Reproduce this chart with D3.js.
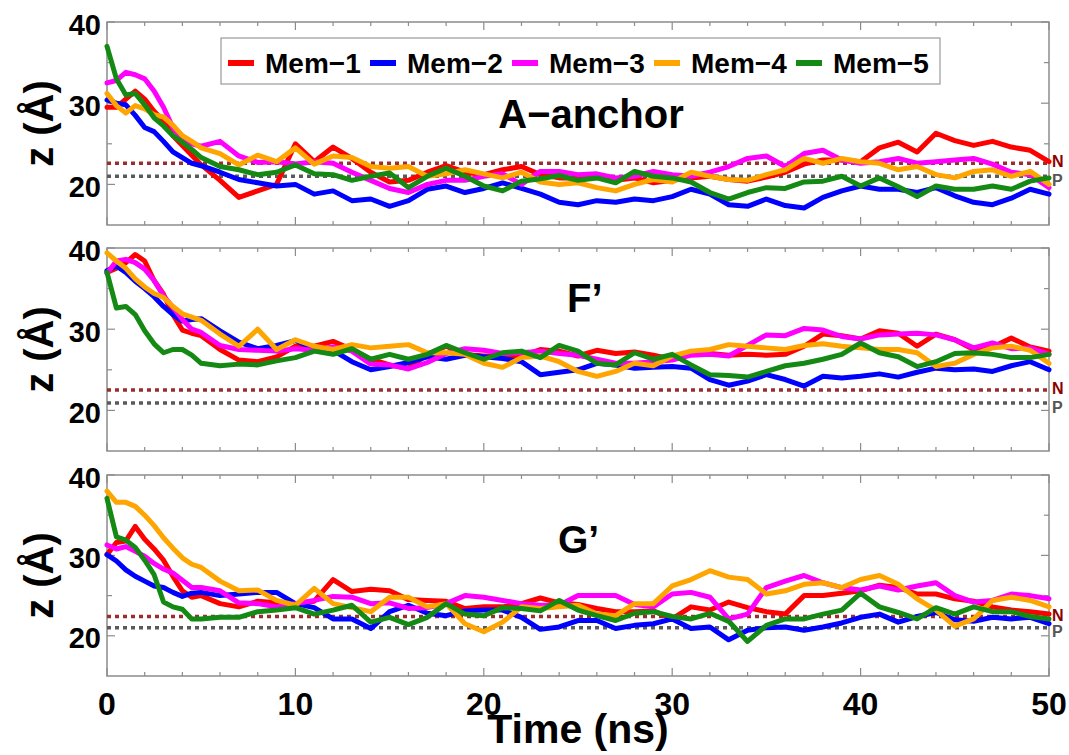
<!DOCTYPE html>
<html><head><meta charset="utf-8">
<script src="https://cdn.jsdelivr.net/npm/d3@7"></script>
<style>
body{margin:0;background:#fff;}
text{font-family:"Liberation Sans",Arial,Helvetica,sans-serif;font-weight:bold;}
</style>
</head><body>
<svg id="chart" width="1069" height="755"></svg>
<script>
// ---------------- data ----------------
const times = [0,0.5,1,1.5,2,2.5,3,3.5,4,4.5,5,6,7,8,9,10,11,12,13,14,15,16,17,18,19,20,21,22,23,24,25,26,27,28,29,30,31,32,33,34,35,36,37,38,39,40,41,42,43,44,45,46,47,48,49,50];

const seriesNames = ["Mem\u22121","Mem\u22122","Mem\u22123","Mem\u22124","Mem\u22125"];
const seriesColors = ["#ff0000","#0000ff","#ff00ff","#ffa500","#148a14"];
const panelTitles = ["A\u2212anchor","F\u2019","G\u2019"];
const yTickLabels = [20,30,40];
const yMinorTicks = [25,35];
const xTickLabels = [0,10,20,30,40,50];
const nLevels = [22.6,22.5,22.4];
const pLevels = [21.0,20.9,21.0];

// A-anchor
const aMem1 = [29.5,29.5,30.5,31.5,30.5,29,27.8,26.0,24.8,23.6,22.4, 20.5,18.4,19.2,20.0,25.0,22.8,24.6,23.2, 21.5,20.3,20.5,21.5,22.3,21.5,21.2,21.8,22.2,21.2,20.8,20.8,21.0,20.5,20.8,20.2,20.5,20.8,21.0, 20.6,20.4,20.9,21.5,22.5,23.0,23.0,22.8,24.5,25.2,24.0,26.3,25.4,24.8,25.3,24.6,24.2,22.8];
const aMem2 = [30.4,30.0,29.8,28.5,27.0,26.5,25.3,24.0,23.3,22.6,22.3, 21.5,20.6,20.2,19.8,20.0,18.8,19.2,18.0, 18.2,17.3,18.0,19.4,19.8,19.0,19.5,20.2,19.5,18.8,17.8,17.5,18.0,17.8,18.2,18.0,18.5,19.4,18.8, 17.5,17.3,18.2,17.4,17.1,18.4,19.2,19.8,19.4,19.4,19.0,19.6,18.6,17.8,17.5,18.3,19.4,18.8];
const aMem3 = [32.5,32.8,33.8,33.5,33.0,31.5,29.5,27.0,25.5,25.0,24.7, 25.3,23.5,22.7,22.8,22.5,22.8,22.6,21.5, 20.5,19.5,19.0,20.0,20.5,20.5,21.0,21.3,20.0,21.6,21.6,21.2,21.3,20.8,21.0,21.6,21.2,21.0,21.5, 22.2,23.2,23.5,22.2,23.8,24.2,23.0,22.6,22.8,23.2,22.6,22.8,23.0,23.2,22.5,21.5,21.2,19.6];
const aMem4 = [31.2,29.7,28.8,29.7,29.3,28.6,28.3,27.3,26.0,25.3,24.5, 23.8,22.4,23.6,22.8,24.5,22.5,23.5,23.3, 22.2,22.0,22.2,21.0,21.3,21.8,21.3,20.8,21.5,20.3,20.0,20.2,19.6,19.2,20.0,20.6,20.3,21.5,21.0, 20.6,20.5,21.2,21.8,23.2,22.6,23.2,22.8,22.6,21.8,22.2,21.2,20.8,21.6,21.8,21.0,21.6,20.0];
const aMem5 = [37.0,33.0,31.0,31.2,29.8,28.2,27.2,26.0,25.2,24.3,23.3, 22.2,21.8,21.2,21.5,22.4,21.3,21.2,20.5, 21.0,21.4,19.6,21.0,22.0,21.0,19.8,19.2,20.4,20.7,21.1,20.5,20.8,20.2,21.6,21.0,20.8,20.3,19.0, 18.2,19.0,19.6,19.5,20.3,20.4,21.0,19.8,20.8,19.7,18.5,19.8,19.4,19.4,19.8,19.4,20.4,20.8];

// F'
const fMem1 = [37.0,37.5,38.2,39.2,38.4,36.0,34.3,31.8,29.9,29.5,29.2, 27.5,26.2,26.0,26.6,27.9,27.9,28.5,27.5,26.3,25.6,25.2,26.9,27.9,26.9,26.7,26.7,26.7,27.5,27.3,26.7, 27.4,27.0,27.2,26.8,26.3,27.1,27.0,26.8,26.9,26.8,26.9,27.9,29.4,29.2,28.8,29.8,29.5,27.9,29.4,28.7,27.5,27.8,28.9,27.8,27.3];
const fMem2 = [37.2,37.8,37.0,35.9,35.0,34.0,32.8,31.8,31.0,31.2,31.3, 29.8,28.4,27.6,28.0,28.6,27.6,27.4,26.0,25.0,25.4,25.9,26.6,26.3,26.8,26.6,26.4,26.0,24.4,24.7,25.0, 25.8,25.6,25.2,25.3,25.4,25.2,23.8,23.1,23.6,24.4,23.8,23.0,24.2,24.0,24.2,24.5,24.1,24.7,25.2,25.0,25.1,24.8,25.5,26.0,25.0];
const fMem3 = [36.9,38.4,38.6,38.2,37.4,36.0,34.1,32.7,31.2,30.0,29.6, 28.0,27.5,27.4,27.3,27.6,27.4,27.8,27.3,25.7,25.6,25.1,25.9,27.0,27.6,27.4,27.0,27.1,27.3,27.0,26.8, 26.3,25.8,25.8,26.0,26.2,26.8,26.9,26.7,28.0,29.3,29.2,30.1,29.9,29.1,28.8,29.3,29.4,29.5,29.3,28.7,27.7,28.3,27.6,27.7,26.9];
const fMem4 = [39.4,38.4,37.5,36.2,35.2,34.4,33.9,32.8,31.9,31.5,31.1, 29.4,27.9,30.0,27.5,28.7,27.9,27.5,28.1,27.7,27.9,28.1,27.1,27.1,26.9,25.8,25.3,26.5,26.7,26.0,24.8, 24.2,24.8,25.8,25.5,26.7,27.3,27.5,28.1,27.9,27.7,27.5,28.0,28.2,27.9,27.7,27.5,27.5,27.1,25.4,25.8,26.9,27.7,27.9,27.4,25.8];
const fMem5 = [37.0,32.6,32.8,31.8,29.8,28.2,27.1,27.5,27.5,26.8,25.8, 25.5,25.7,25.6,26.1,26.5,27.3,26.9,27.6,26.3,26.9,26.3,26.9,28.0,27.1,26.3,27.1,27.3,26.5,28.0,27.3, 25.8,25.6,27.1,26.3,26.9,25.6,24.4,24.3,24.1,24.8,25.5,25.8,26.3,26.9,28.3,27.1,26.6,25.4,26.0,27.0,27.1,26.9,26.5,26.5,26.9];

// G'
const gMem1 = [30.1,31.6,31.8,33.6,32.0,30.8,29.4,27.4,25.6,24.8,25.0, 24.0,23.6,24.3,24.1,24.0,24.3,27.0,25.5,25.8,25.6,24.5,24.4,24.3,23.4,23.6,23.6,24.0,24.7,24.1,23.9, 23.4,23.0,23.0,23.1,22.1,23.6,23.2,24.2,23.5,23.0,22.7,25.0,25.0,25.3,25.6,26.3,26.0,25.2,25.2,24.6,24.3,23.6,23.2,23.0,22.7];
const gMem2 = [30.1,29.3,28.2,27.4,26.8,26.2,26.0,25.4,24.9,25.3,25.4, 25.0,25.2,25.4,25.4,24.0,23.5,22.1,22.1,20.9,23.0,23.8,22.8,22.5,23.1,23.2,23.2,22.3,20.8,21.1,21.9, 21.9,20.9,21.3,21.5,22.1,20.9,21.1,19.5,20.7,21.0,21.1,20.7,21.1,21.6,22.3,22.7,21.7,22.4,22.9,22.0,21.8,22.3,22.1,22.3,21.5];
const gMem3 = [31.3,30.8,31.1,30.5,29.9,29.0,28.3,27.8,26.9,26.0,26.0, 25.6,24.1,24.0,23.6,24.0,24.4,24.9,24.8,24.0,24.1,23.4,23.5,24.0,25.0,24.8,24.4,24.0,23.8,23.8,25.0, 25.0,25.0,23.9,23.6,25.2,25.4,24.8,22.1,22.7,26.0,26.8,27.5,26.6,26.0,25.7,26.2,25.7,26.2,26.6,25.0,24.2,24.4,25.2,25.0,24.6];
const gMem4 = [38.0,36.6,36.6,36.1,35.0,33.7,32.2,30.9,29.7,28.9,28.5, 26.8,25.6,25.7,24.4,23.8,25.9,24.0,23.5,23.0,24.8,24.8,23.6,24.0,21.5,20.5,21.7,23.6,23.4,23.6,23.8, 22.7,22.5,24.0,24.0,26.2,27.0,28.1,27.3,27.0,25.2,25.6,26.4,26.6,26.0,27.0,27.5,26.4,24.6,23.2,21.2,22.1,24.4,24.8,24.4,23.6];
const gMem5 = [37.1,32.3,31.9,31.0,29.4,27.6,24.2,23.6,23.3,22.1,22.1, 22.3,22.3,23.0,23.2,23.5,22.7,23.2,23.8,21.7,22.3,21.4,22.3,24.0,22.7,22.5,23.5,23.4,23.1,24.4,23.2, 22.5,21.9,22.8,23.0,22.4,22.1,22.8,21.8,19.3,21.3,22.1,22.1,22.7,23.2,25.3,23.6,22.9,22.1,23.5,22.7,23.6,23.0,23.0,22.4,22.1];

const panelSeries = [
  [aMem1,aMem2,aMem3,aMem4,aMem5],
  [fMem1,fMem2,fMem3,fMem4,fMem5],
  [gMem1,gMem2,gMem3,gMem4,gMem5]
];

// ---------------- layout ----------------
const svg = d3.select("#chart");
svg.append("rect").attr("width",1069).attr("height",755).attr("fill","#fff");

const left = 107, right = 1049;
const panelBoxes = [{top:22,bottom:225},{top:248,bottom:451},{top:475,bottom:676}];
const titlePos = [
  {x:591, y:128, size:40, anchor:"middle"},
  {x:567, y:312, size:40, anchor:"start"},
  {x:558, y:553, size:39, anchor:"start"}
];
const axisColor = "#8c8c8c";

const x = d3.scaleLinear().domain([0,50]).range([left,right]);
const xMinor = d3.range(0,51,2);

panelBoxes.forEach((box,pi)=>{
  const y = d3.scaleLinear().domain([15,40]).range([box.bottom, box.top]);
  const g = svg.append("g");

  // frame
  g.append("rect").attr("x",left).attr("y",box.top)
    .attr("width",right-left).attr("height",box.bottom-box.top)
    .attr("fill","none").attr("stroke",axisColor).attr("stroke-width",1.5);

  // x ticks (bottom & top, inward)
  xMinor.forEach(t=>{
    const len = (t%10===0)?8:4;
    g.append("line").attr("x1",x(t)).attr("x2",x(t)).attr("y1",box.bottom).attr("y2",box.bottom-len)
      .attr("stroke",axisColor).attr("stroke-width",1.2);
    g.append("line").attr("x1",x(t)).attr("x2",x(t)).attr("y1",box.top).attr("y2",box.top+len)
      .attr("stroke",axisColor).attr("stroke-width",1.2);
  });
  // y ticks (left & right, inward)
  yTickLabels.concat(yMinorTicks).forEach(v=>{
    const len = yTickLabels.includes(v)?8:5;
    g.append("line").attr("x1",left).attr("x2",left+len).attr("y1",y(v)).attr("y2",y(v))
      .attr("stroke",axisColor).attr("stroke-width",1.2);
    g.append("line").attr("x1",right).attr("x2",right-len).attr("y1",y(v)).attr("y2",y(v))
      .attr("stroke",axisColor).attr("stroke-width",1.2);
  });
  // y tick labels
  yTickLabels.forEach(v=>{
    g.append("text").attr("x",101).attr("y",y(v)+12.5).attr("text-anchor","end")
      .attr("font-size",29).attr("fill","#000").text(v);
  });
  // y axis label
  g.append("text").attr("transform",`translate(53,${(box.top+box.bottom)/2}) rotate(-90)`)
    .attr("text-anchor","middle").attr("font-size",40).attr("fill","#000").text("z (\u00C5)");

  // reference dotted lines N and P
  const refLine = d3.line().x(d=>x(d[0])).y(d=>y(d[1]));
  g.append("path").attr("d",refLine([[0,nLevels[pi]],[50,nLevels[pi]]]))
    .attr("stroke","#9b2d2d").attr("stroke-width",3.5).attr("stroke-dasharray","4,4").attr("fill","none");
  g.append("path").attr("d",refLine([[0,pLevels[pi]],[50,pLevels[pi]]]))
    .attr("stroke","#5a5a5a").attr("stroke-width",3.5).attr("stroke-dasharray","4,4").attr("fill","none");
  g.append("text").attr("x",1052).attr("y",y(nLevels[pi])+4).attr("font-size",16).attr("fill","#8b0000").text("N");
  g.append("text").attr("x",1052).attr("y",y(pLevels[pi])+9.5).attr("font-size",16).attr("fill","#555").text("P");

  // series lines
  const line = d3.line().x((d,i)=>x(times[i])).y(d=>y(d)).curve(d3.curveLinear);
  panelSeries[pi].forEach((vals,si)=>{
    g.append("path").attr("d",line(vals)).attr("fill","none")
      .attr("stroke",seriesColors[si]).attr("stroke-width",5)
      .attr("stroke-linejoin","round").attr("stroke-linecap","round");
  });

  // panel title
  const tp = titlePos[pi];
  g.append("text").attr("x",tp.x).attr("y",tp.y).attr("text-anchor",tp.anchor)
    .attr("font-size",tp.size).attr("fill","#000").text(panelTitles[pi]);
});

// x tick labels & axis title
xTickLabels.forEach(t=>{
  svg.append("text").attr("x",x(t)).attr("y",715).attr("text-anchor","middle")
    .attr("font-size",32).attr("fill","#000").text(t);
});
svg.append("text").attr("x",(left+right)/2).attr("y",743).attr("text-anchor","middle")
  .attr("font-size",41).attr("fill","#000").text("Time (ns)");

// legend
const lg = svg.append("g");
lg.append("rect").attr("x",221).attr("y",38).attr("width",719).attr("height",46)
  .attr("fill","#fff").attr("stroke","#999").attr("stroke-width",1.2);
seriesNames.forEach((name,i)=>{
  const x0 = 228 + i*142;
  lg.append("line").attr("x1",x0).attr("x2",x0+26).attr("y1",63).attr("y2",63)
    .attr("stroke",seriesColors[i]).attr("stroke-width",6);
  lg.append("text").attr("x",x0+37).attr("y",73).attr("font-size",28).attr("fill","#000").text(name);
});
</script>
</body></html>
